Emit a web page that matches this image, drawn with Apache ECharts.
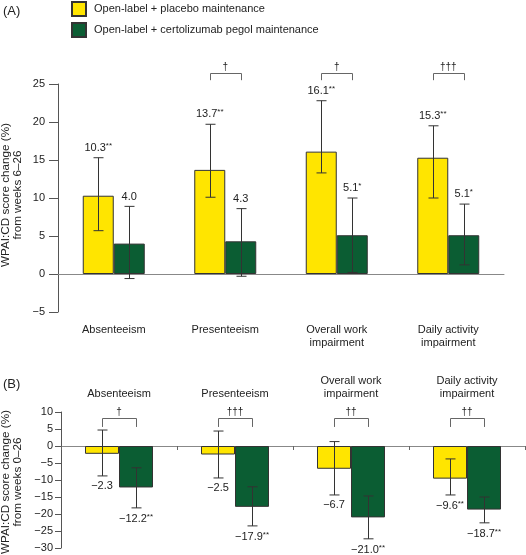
<!DOCTYPE html>
<html>
<head>
<meta charset="utf-8">
<script src="https://cdn.jsdelivr.net/npm/echarts@6/dist/echarts.min.js"></script>
<style>html,body{margin:0;padding:0;background:#fff}#c{width:526px;height:555px}</style>
</head>
<body>
<div id="c"></div>
<script>
// ---------- DATA ----------
const categories = ['Absenteeism', 'Presenteeism', 'Overall work\nimpairment', 'Daily activity\nimpairment'];
const seriesNames = ['Open-label + placebo maintenance', 'Open-label + certolizumab pegol maintenance'];

// Panel A: change from weeks 6–26
const placeboA = [10.3, 13.7, 16.1, 15.3];
const certA = [4.0, 4.3, 5.1, 5.1];
const placeboA_low = [5.7, 10.1, 13.3, 10.0];
const placeboA_high = [15.3, 19.7, 22.8, 19.5];
const certA_low = [-0.6, -0.3, 0.2, 1.2];
const certA_high = [8.9, 8.6, 10.0, 9.2];
const placeboA_labels = ['10.3**', '13.7**', '16.1**', '15.3**'];
const certA_labels = ['4.0', '4.3', '5.1*', '5.1*'];
const sigA = ['', '†', '†', '†††'];
const bracketA = [26.4, 25.5];
const ticksA = { min: -5, max: 25, interval: 5 };

// Panel B: change from weeks 0–26
const placeboB = [-2.3, -2.5, -6.7, -9.6];
const certB = [-12.2, -17.9, -21.0, -18.7];
const placeboB_low = [-8.8, -9.4, -14.4, -14.4];
const placeboB_high = [4.7, 4.4, 1.3, -3.8];
const certB_low = [-18.2, -23.5, -27.3, -22.6];
const certB_high = [-6.4, -12.0, -14.7, -15.0];
const placeboB_labels = ['−2.3', '−2.5', '−6.7', '−9.6**'];
const certB_labels = ['−12.2**', '−17.9**', '−21.0**', '−18.7**'];
const sigB = ['†', '†††', '††', '††'];
const bracketB = [8.2, 5.6];
const ticksB = { min: -30, max: 10, interval: 5 };

// ---------- STYLE ----------
const FONT = '"Liberation Sans", Arial, Helvetica, sans-serif';
const YELLOW = '#FFE500';
const GREEN = '#0B5D33';
const TXT = '#222';

function richLabel(s) {
  const m = s.match(/^(.*?)(\*+)?$/);
  return m[2] ? '{v|' + m[1] + '}{s|' + m[2] + '}' : '{v|' + m[1] + '}';
}
const RICH = {
  v: { fontSize: 11, fontFamily: FONT, fill: TXT, color: TXT },
  s: { fontSize: 8, fontFamily: FONT, fill: TXT, color: TXT, verticalAlign: 'top', padding: [0, 0, 4, 0] }
};

function makeRender(cfg) {
  return function (params, api) {
    const i = params.dataIndex;
    const c0 = api.coord([i, 0]);
    const xs = [c0[0] - cfg.barW / 2, c0[0] + cfg.barW / 2];
    const lows = [cfg.pLow[i], cfg.cLow[i]];
    const highs = [cfg.pHigh[i], cfg.cHigh[i]];
    const labs = [cfg.pLab[i], cfg.cLab[i]];
    const children = [];
    for (let k = 0; k < 2; k++) {
      const yl = api.coord([i, lows[k]])[1];
      const yh = api.coord([i, highs[k]])[1];
      const x = Math.round(xs[k]) + 0.5;
      const ls = { stroke: '#333', lineWidth: 1, fill: null };
      children.push({ type: 'line', shape: { x1: x, y1: yl, x2: x, y2: yh }, style: ls });
      children.push({ type: 'line', shape: { x1: x - 5, y1: yl, x2: x + 5, y2: yl }, style: ls });
      children.push({ type: 'line', shape: { x1: x - 5, y1: yh, x2: x + 5, y2: yh }, style: ls });
      const ty = cfg.above ? yh - 4 : yl + 5;
      children.push({
        type: 'text', x: xs[k], y: ty,
        style: { text: richLabel(labs[k]), rich: RICH, align: 'center', verticalAlign: cfg.above ? 'bottom' : 'top', fontFamily: FONT, fontSize: 11, fill: TXT }
      });
    }
    if (cfg.sig[i]) {
      const yt = Math.round(api.coord([i, cfg.bracket[0]])[1]) + 0.5;
      const yb = api.coord([i, cfg.bracket[1]])[1];
      const x1 = Math.round(xs[0]) + 0.5, x2 = Math.round(xs[1]) + 0.5;
      children.push({ type: 'polyline', shape: { points: [[x1, yb], [x1, yt], [x2, yt], [x2, yb]] }, style: { stroke: '#666', lineWidth: 1, fill: null } });
      children.push({ type: 'text', x: c0[0], y: yt - 1, style: { text: cfg.sig[i], align: 'center', verticalAlign: 'bottom', fontFamily: FONT, fontSize: 10, fill: TXT } });
    }
    return { type: 'group', children: children };
  };
}

const minusFmt = v => String(v).replace('-', '−');
const chart = echarts.init(document.getElementById('c'), null, { renderer: 'canvas' });

const barStyle = (color) => ({ color: color, borderColor: '#333', borderWidth: 1 });
const idxData = categories.map((c, i) => [i, 0]);

chart.setOption({
  animation: false,
  backgroundColor: '#fff',
  textStyle: { fontFamily: FONT },
  legend: {
    data: seriesNames, orient: 'vertical', left: 71, top: 1, padding: 0, itemWidth: 14, itemHeight: 14, itemGap: 5, icon: 'rect',
    textStyle: { fontSize: 11, color: TXT, fontFamily: FONT, padding: [0, 0, 0, 3] }
  },
  graphic: [
    { type: 'text', left: 3, top: 5, style: { text: '(A)', fontSize: 13, fontFamily: FONT, fill: TXT } },
    { type: 'text', left: 3, top: 378, style: { text: '(B)', fontSize: 13, fontFamily: FONT, fill: TXT } },
    { type: 'text', x: 12, y: 195, rotation: Math.PI / 2, style: { text: 'WPAI:CD score change (%)\nfrom weeks 6–26', align: 'center', verticalAlign: 'middle', fontSize: 11.7, lineHeight: 12, fontFamily: FONT, fill: TXT } },
    { type: 'text', x: 12, y: 482, rotation: Math.PI / 2, style: { text: 'WPAI:CD score change (%)\nfrom weeks 0–26', align: 'center', verticalAlign: 'middle', fontSize: 11.7, lineHeight: 12, fontFamily: FONT, fill: TXT } }
  ],
  grid: [
    { left: 58, right: 22, top: 84, bottom: 243, containLabel: false },
    { left: 61, right: 1, top: 412, bottom: 7, containLabel: false }
  ],
  xAxis: [
    { gridIndex: 0, type: 'category', data: categories, position: 'bottom', axisLine: { show: false, onZero: false }, axisTick: { show: false },
      axisLabel: { fontSize: 11, color: TXT, fontFamily: FONT, margin: 11, lineHeight: 13, interval: 0 } },
    { gridIndex: 0, type: 'category', data: categories, position: 'bottom', axisLine: { show: true, onZero: true, lineStyle: { color: '#888', width: 1 } }, axisTick: { show: false }, axisLabel: { show: false } },
    { gridIndex: 1, type: 'category', data: categories, position: 'top', axisLine: { show: false, onZero: false }, axisTick: { show: false },
      axisLabel: { fontSize: 11, color: TXT, fontFamily: FONT, margin: 12, lineHeight: 13, interval: 0 } },
    { gridIndex: 1, type: 'category', data: categories, position: 'bottom', axisLine: { show: true, onZero: true, lineStyle: { color: '#888', width: 1 } },
      axisTick: { show: true, length: 4, lineStyle: { color: '#666' } }, axisLabel: { show: false } }
  ],
  yAxis: [
    { gridIndex: 0, type: 'value', min: ticksA.min, max: ticksA.max, interval: ticksA.interval, splitLine: { show: false },
      axisLine: { show: true, onZero: false, lineStyle: { color: '#555' } }, axisTick: { show: true, length: 9, lineStyle: { color: '#555' } },
      axisLabel: { fontSize: 11, color: TXT, fontFamily: FONT, margin: 13, formatter: minusFmt } },
    { gridIndex: 1, type: 'value', min: ticksB.min, max: ticksB.max, interval: ticksB.interval, splitLine: { show: false },
      axisLine: { show: true, onZero: false, lineStyle: { color: '#555' } }, axisTick: { show: true, length: 6, lineStyle: { color: '#555' } },
      axisLabel: { fontSize: 11, color: TXT, fontFamily: FONT, margin: 8, formatter: minusFmt } }
  ],
  series: [
    { name: seriesNames[0], type: 'bar', xAxisIndex: 0, yAxisIndex: 0, data: placeboA, barWidth: 31, barGap: '0%', itemStyle: barStyle(YELLOW) },
    { name: seriesNames[1], type: 'bar', xAxisIndex: 0, yAxisIndex: 0, data: certA, barWidth: 31, barGap: '0%', itemStyle: barStyle(GREEN) },
    { type: 'custom', xAxisIndex: 0, yAxisIndex: 0, data: idxData, clip: false, z: 5,
      renderItem: makeRender({ barW: 31, pLow: placeboA_low, pHigh: placeboA_high, cLow: certA_low, cHigh: certA_high, pLab: placeboA_labels, cLab: certA_labels, sig: sigA, bracket: bracketA, above: true }) },
    { name: seriesNames[0], type: 'bar', xAxisIndex: 2, yAxisIndex: 1, data: placeboB, barWidth: 34, barGap: '0%', itemStyle: barStyle(YELLOW) },
    { name: seriesNames[1], type: 'bar', xAxisIndex: 2, yAxisIndex: 1, data: certB, barWidth: 34, barGap: '0%', itemStyle: barStyle(GREEN) },
    { type: 'custom', xAxisIndex: 2, yAxisIndex: 1, data: idxData, clip: false, z: 5,
      renderItem: makeRender({ barW: 34, pLow: placeboB_low, pHigh: placeboB_high, cLow: certB_low, cHigh: certB_high, pLab: placeboB_labels, cLab: certB_labels, sig: sigB, bracket: bracketB, above: false }) }
  ]
});
</script>
</body>
</html>
